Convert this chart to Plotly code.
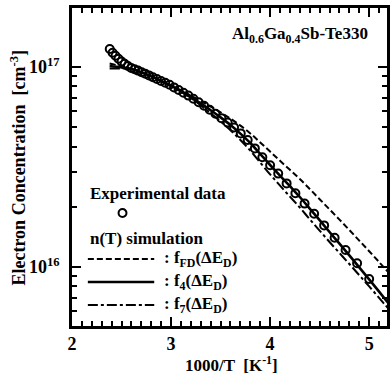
import numpy as np
import plotly.graph_objects as go

# Experimental Hall data: measurement temperatures [K] and log10 of n [cm^-3]
temp_exp = [420, 415, 410, 405, 400, 395, 390, 385, 380, 375, 370, 365, 360,
            355, 350, 345, 340, 335, 330, 325, 320, 315, 310, 305, 300, 295,
            290, 285, 280, 275, 270, 265, 260, 255, 250, 245, 240, 235, 230,
            225, 220, 215, 210, 205, 200]
log_n_exp = [17.090, 17.071, 17.056, 17.041, 17.027, 17.016, 17.005, 16.995,
             16.989, 16.982, 16.974, 16.966, 16.958, 16.949, 16.940, 16.930,
             16.921, 16.911, 16.898, 16.885, 16.871, 16.857, 16.841, 16.824,
             16.806, 16.786, 16.766, 16.744, 16.722, 16.698, 16.668, 16.635,
             16.593, 16.549, 16.509, 16.467, 16.418, 16.369, 16.317, 16.266,
             16.208, 16.146, 16.085, 16.019, 15.940]

# Simulated n(T) curves on a 1000/T grid, log10 of n [cm^-3]
inv_t_sim = [2.38, 2.5, 2.6, 2.7, 2.8, 2.9, 3.0, 3.1, 3.2, 3.3, 3.4, 3.5, 3.6,
             3.7, 3.8, 3.9, 4.0, 4.1, 4.2, 4.3, 4.4, 4.5, 4.6, 4.7, 4.8, 4.9,
             5.0, 5.1, 5.2]
log_n_fd = [17.017, 17.004, 16.990, 16.974, 16.953, 16.930, 16.907, 16.883,
            16.857, 16.830, 16.802, 16.773, 16.742, 16.707, 16.668, 16.623,
            16.577, 16.531, 16.486, 16.440, 16.390, 16.339, 16.288, 16.237,
            16.185, 16.132, 16.079, 16.025, 15.970]
log_n_f4 = [17.005, 16.998, 16.990, 16.974, 16.953, 16.930, 16.906, 16.880,
            16.851, 16.818, 16.784, 16.748, 16.710, 16.667, 16.620, 16.565,
            16.510, 16.457, 16.404, 16.350, 16.292, 16.234, 16.175, 16.117,
            16.058, 15.998, 15.938, 15.877, 15.815]
log_n_f7 = [16.993, 16.992, 16.990, 16.974, 16.953, 16.930, 16.906, 16.877,
            16.845, 16.808, 16.769, 16.728, 16.684, 16.635, 16.582, 16.522,
            16.463, 16.407, 16.352, 16.297, 16.239, 16.182, 16.125, 16.070,
            16.015, 15.959, 15.903, 15.846, 15.788]

y_major = [1e16, 1e17]
y_major_text = ["10<sup>16</sup>", "10<sup>17</sup>"]
y_minor = [m * 1e15 for m in range(2, 10)] + [m * 1e16 for m in range(2, 10)] + [2e17]
x_major = [2, 3, 4, 5]

FONT = "Liberation Serif"
INK = "black"
DASH_FD = "6px,3px"
DASH_F7 = "10px,3px,3px,3px"

# Plot-area geometry in pixels (for placing the hand-drawn key)
W, H = 390, 378
L, R, T, B = 72, 0, 8, 52
PW, PH = W - L - R, H - T - B


def px(xp):
    return (xp - L) / PW


def py(yp):
    return (H - B - yp) / PH


fig = go.Figure()

x_sim = np.array(inv_t_sim)
fig.add_trace(go.Scatter(x=x_sim, y=10 ** np.array(log_n_fd), mode="lines",
                         line=dict(color=INK, width=2, dash=DASH_FD),
                         line_shape="spline", showlegend=False))
fig.add_trace(go.Scatter(x=x_sim, y=10 ** np.array(log_n_f7), mode="lines",
                         line=dict(color=INK, width=2, dash=DASH_F7),
                         line_shape="spline", showlegend=False))
fig.add_trace(go.Scatter(x=x_sim, y=10 ** np.array(log_n_f4), mode="lines",
                         line=dict(color=INK, width=2.6),
                         line_shape="spline", showlegend=False))

x_exp = 1000.0 / np.array(temp_exp, dtype=float)
fig.add_trace(go.Scatter(x=x_exp, y=10 ** np.array(log_n_exp), mode="markers",
                         marker=dict(symbol="circle-open", size=8, color=INK,
                                     line=dict(width=2, color=INK)),
                         showlegend=False))

tick_font = dict(family=FONT, size=18, color=INK, weight="bold")
axis_common = dict(
    showline=True, linecolor=INK, linewidth=2.5, mirror="allticks",
    ticks="inside", tickcolor=INK, tickwidth=2, ticklen=9,
    showgrid=False, zeroline=False, tickfont=tick_font,
)

fig.update_xaxes(range=[2, 2 + PW / 100.0], tickvals=x_major,
                 minor=dict(dtick=0.1, tick0=2, ticks="inside", ticklen=5,
                            tickwidth=1.5, tickcolor=INK),
                 ticklabelstandoff=0,
                 **axis_common)
fig.update_yaxes(type="log", range=[15.705, 17.295],
                 tickvals=y_major, ticktext=y_major_text,
                 minor=dict(tickvals=y_minor, ticks="inside", ticklen=5,
                            tickwidth=1.5, tickcolor=INK),
                 ticklabelstandoff=6,
                 **axis_common)

ann_font = dict(family=FONT, size=17, color=INK, weight="bold")
annotations = [
    dict(x=px(373), y=py(35), text="Al<sub>0.6</sub>Ga<sub>0.4</sub>Sb-Te330",
         xanchor="right", yanchor="middle"),
    dict(x=px(88), y=py(193), text="Experimental data", xanchor="left", yanchor="middle"),
    dict(x=px(88), y=py(238), text="n(T) simulation", xanchor="left", yanchor="middle"),
    dict(x=px(163), y=py(259), text=": f<sub>FD</sub>(ΔE<sub>D</sub>)", xanchor="left", yanchor="middle"),
    dict(x=px(163), y=py(282), text=": f<sub>4</sub>(ΔE<sub>D</sub>)", xanchor="left", yanchor="middle"),
    dict(x=px(163), y=py(305), text=": f<sub>7</sub>(ΔE<sub>D</sub>)", xanchor="left", yanchor="middle"),
    dict(x=px(233), y=py(364), text="1000/T  [K<sup>-1</sup>]", xanchor="center", yanchor="middle"),
    dict(x=px(17), y=py(168), text="Electron Concentration  [cm<sup>-3</sup>]",
         textangle=-90, xanchor="center", yanchor="middle",
         font=dict(family=FONT, size=18, color=INK, weight="bold")),
]
for a in annotations:
    a.setdefault("font", ann_font)
    a.update(xref="paper", yref="paper", showarrow=False)

shapes = [
    dict(type="circle", x0=px(119), x1=px(127), y0=py(217), y1=py(209),
         line=dict(color=INK, width=2)),
    dict(type="line", x0=px(88), x1=px(155), y0=py(259), y1=py(259),
         line=dict(color=INK, width=2, dash=DASH_FD)),
    dict(type="line", x0=px(88), x1=px(155), y0=py(282), y1=py(282),
         line=dict(color=INK, width=2.6)),
    dict(type="line", x0=px(88), x1=px(155), y0=py(305), y1=py(305),
         line=dict(color=INK, width=2, dash=DASH_F7)),
]
for s in shapes:
    s.update(xref="paper", yref="paper")

fig.update_layout(
    width=W, height=H,
    margin=dict(l=L, r=R, t=T, b=B),
    paper_bgcolor="white", plot_bgcolor="white",
    font=dict(family=FONT, color=INK),
    annotations=annotations, shapes=shapes,
    showlegend=False,
)

fig.write_html("out.html")
